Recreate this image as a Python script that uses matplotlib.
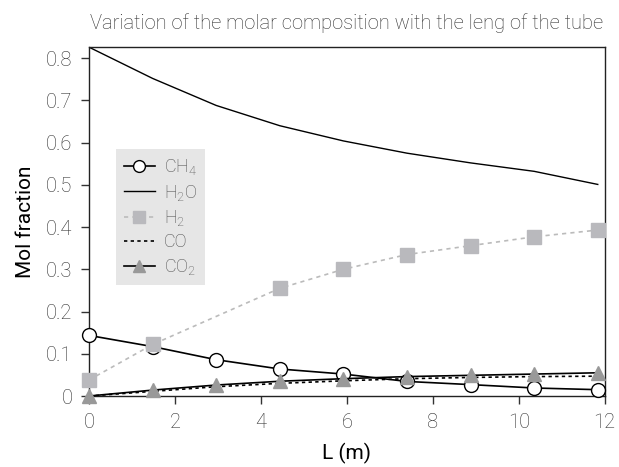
import matplotlib
matplotlib.use('Agg')
import matplotlib.pyplot as plt

# tube length positions (m)
L = [0, 1.48, 2.96, 4.44, 5.92, 7.40, 8.88, 10.36, 11.84]
L_h2 = [0, 1.48, 4.44, 5.92, 7.40, 8.88, 10.36, 11.84]

ch4 = [0.1435, 0.117, 0.086, 0.064, 0.052, 0.0345, 0.027, 0.019, 0.015]
h2o = [0.826, 0.752, 0.688, 0.640, 0.604, 0.575, 0.552, 0.532, 0.501]
h2 = [0.038, 0.122, 0.255, 0.300, 0.335, 0.356, 0.377, 0.393]
co = [0.0, 0.011, 0.022, 0.030, 0.036, 0.041, 0.044, 0.046, 0.047]
co2 = [0.0, 0.014, 0.026, 0.035, 0.041, 0.046, 0.049, 0.052, 0.055]

plt.rcParams['font.family'] = ['Roboto', 'DejaVu Sans']
plt.rcParams['mathtext.default'] = 'regular'

fig = plt.figure(figsize=(6.19, 4.67), dpi=100)
ax = fig.add_axes([0.1438, 0.152, 0.833, 0.747])

grey = '#2e2e2e'
ax.plot(L, ch4, '-', color='black', lw=1.2, marker='o', ms=10, mfc='white',
        mec='black', mew=1.0, label=r'CH$_4$', clip_on=False, zorder=3)
ax.plot(L, h2o, '-', color='black', lw=1.0, label=r'H$_2$O', zorder=2)
ax.plot(L_h2, h2, color='#bbbbbb', lw=1.2, ls=(0, (2.5, 2.5)), marker='s', ms=9.5,
        mfc='#b9b9bd', mec='#b9b9bd', label=r'H$_2$', clip_on=False, zorder=4)
ax.plot(L, co, color='black', lw=1.2, ls=(0, (2, 2)), label='CO', zorder=2)
ax.plot(L, co2, '-', color='black', lw=1.2, marker='^', ms=10, mfc='#999999',
        mec='#999999', label=r'CO$_2$', clip_on=False, zorder=3)

ax.set_xlim(0, 12)
ax.set_ylim(0, 0.826)
ax.set_xticks([0, 2, 4, 6, 8, 10, 12])
ax.set_yticks([0, 0.1, 0.2, 0.3, 0.4, 0.5, 0.6, 0.7, 0.8])
ax.set_yticklabels(['0', '0.1', '0.2', '0.3', '0.4', '0.5', '0.6', '0.7', '0.8'])
ax.tick_params(direction='out', length=6, width=1, colors='#333333',
               labelcolor=grey, labelsize=14.5, pad=6)
for lab in ax.get_xticklabels() + ax.get_yticklabels():
    lab.set_fontweight('light')
for s in ax.spines.values():
    s.set_color('#222222')
    s.set_linewidth(1.0)

ax.set_xlabel('L (m)', fontsize=15, labelpad=8)
ax.set_ylabel('Mol fraction', fontsize=15, labelpad=8)
ax.set_title('Variation of the molar composition with the leng of the tube',
             fontsize=14.5, fontweight='light', color=grey, pad=13)

leg = ax.legend(loc='upper left', bbox_to_anchor=(0.052, 0.708), borderaxespad=0,
                frameon=True, fancybox=False, fontsize=13, handlelength=1.7,
                handletextpad=0.5, labelspacing=0.3, borderpad=0.45, markerscale=0.85)
leg.get_frame().set_facecolor('#e6e6e6')
leg.get_frame().set_edgecolor('none')
leg.get_frame().set_alpha(1)
for t in leg.get_texts():
    t.set_color('#4a4a4a')
    t.set_fontweight('light')

fig.savefig('out.png', dpi=100)
